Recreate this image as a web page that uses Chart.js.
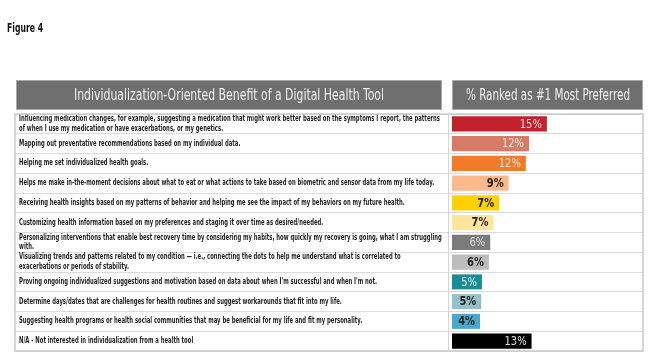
<!DOCTYPE html>
<html>
<head>
<meta charset="utf-8">
<script src="https://cdn.jsdelivr.net/npm/chart.js@4/dist/chart.umd.min.js"></script>
<style>
  html, body { margin: 0; padding: 0; background: #ffffff; }
  #wrap { position: relative; width: 650px; height: 357px; }
</style>
</head>
<body>
<div id="wrap"><canvas id="c" width="650" height="357"></canvas></div>
<script>
// ---- data ----
const figureTitle = "Figure 4";
const leftHeader = "Individualization-Oriented Benefit of a Digital Health Tool";
const rightHeader = "% Ranked as #1 Most Preferred";

const categories = [
  ["Influencing medication changes, for example, suggesting a medication that might work better based on the symptoms I report, the patterns",
   "of when I use my medication or have exacerbations, or my genetics."],
  "Mapping out preventative recommendations based on my individual data.",
  "Helping me set individualized health goals.",
  "Helps me make in-the-moment decisions about what to eat or what actions to take based on biometric and sensor data from my life today.",
  "Receiving health insights based on my patterns of behavior and helping me see the impact of my behaviors on my future health.",
  "Customizing health information based on my preferences and staging it over time as desired/needed.",
  ["Personalizing interventions that enable best recovery time by considering my habits, how quickly my recovery is going, what I am struggling",
   "with."],
  ["Visualizing trends and patterns related to my condition \u2014 i.e., connecting the dots to help me understand what is correlated to",
   "exacerbations or periods of stability."],
  "Proving ongoing individualized suggestions and motivation based on data about when I'm successful and when I'm not.",
  "Determine days/dates that are challenges for health routines and suggest workarounds that fit into my life.",
  "Suggesting health programs or health social communities that may be beneficial for my life and fit my personality.",
  "N/A - Not interested in individualization from a health tool"
];
const values = [14.9, 12.1, 11.6, 8.9, 7.4, 6.5, 6.0, 5.8, 4.7, 4.6, 4.4, 12.5];
const valueLabels = ["15%", "12%", "12%", "9%", "7%", "7%", "6%", "6%", "5%", "5%", "4%", "13%"];
const barColors = ["#c1212b", "#d77b67", "#f27b29", "#fbb98b", "#ffd100", "#fde59c",
                   "#7b7b7b", "#bdbdbd", "#1a8c95", "#95c0c7", "#46a9cd", "#000000"];
const labelColors = ["#f3e0e0", "#f6ece8", "#fbe7d8", "#222222", "#222222", "#222222",
                     "#dddddd", "#222222", "#e4f2f3", "#222222", "#222222", "#e0e0e0"];

// ---- fonts: horizontal squeeze fitted to the reference text widths ----
const FAMILY = "'Liberation Sans Narrow', 'DejaVu Sans Condensed', 'Liberation Sans', sans-serif";
const mctx = document.createElement('canvas').getContext('2d');
function fitScale(text, font, targetWidth) {
  mctx.font = font;
  return Math.min(1, targetWidth / mctx.measureText(text).width);
}
const CAT_SIZE = 8;
const catScale = fitScale(categories[0][0], "bold " + CAT_SIZE + "px " + FAMILY, 421);
const LEFT_HEAD_FONT = "normal 15px " + FAMILY;
const RIGHT_HEAD_FONT = "normal 15px " + FAMILY;
const leftHeadScale = fitScale(leftHeader, LEFT_HEAD_FONT, 310);
const rightHeadScale = fitScale(rightHeader, RIGHT_HEAD_FONT, 164);
const TITLE_FONT = "bold 13px " + FAMILY;
const titleScale = fitScale(figureTitle, TITLE_FONT, 36);

// ---- layout geometry ----
const TABLE = { left: 15, top: 114, right: 643, bottom: 351, divider: 448 };
const BAR_START = 452;
const TEXT_LEFT = 19;

function squeezedText(ctx, text, cx, cy, sx) {
  ctx.save();
  ctx.translate(cx, cy);
  ctx.scale(sx, 1);
  ctx.fillText(text, 0, 0);
  ctx.restore();
}

const tablePlugin = {
  id: 'tablePlugin',
  beforeDraw(chart) {
    const ctx = chart.ctx;
    ctx.save();
    // Figure title
    ctx.fillStyle = "#111111";
    ctx.font = TITLE_FONT;
    ctx.textBaseline = "alphabetic";
    ctx.textAlign = "left";
    squeezedText(ctx, figureTitle, 7, 32, titleScale);
    // headers
    ctx.fillStyle = "#6f6f6f";
    ctx.fillRect(16, 80, 426, 30);
    ctx.fillRect(452, 80, 191, 30);
    ctx.strokeStyle = "#a9a9a9";
    ctx.lineWidth = 1;
    ctx.strokeRect(16.5, 80.5, 425, 29);
    ctx.strokeRect(452.5, 80.5, 190, 29);
    ctx.fillStyle = "#eeeeee";
    ctx.textAlign = "center";
    ctx.textBaseline = "middle";
    ctx.font = LEFT_HEAD_FONT;
    squeezedText(ctx, leftHeader, 229, 96, leftHeadScale);
    ctx.font = RIGHT_HEAD_FONT;
    squeezedText(ctx, rightHeader, 548, 96, rightHeadScale);
    ctx.restore();
  },
  afterDatasetsDraw(chart) {
    // the y tick labels (ticks.z = 1) are drawn right after this hook: squeeze them about TEXT_LEFT
    const ctx = chart.ctx;
    const r = chart.currentDevicePixelRatio || 1;
    ctx.save();
    ctx.setTransform(r * catScale, 0, 0, r, r * TEXT_LEFT * (1 - catScale), 0);
  },
  afterDraw(chart) {
    const ctx = chart.ctx;
    ctx.restore();
    ctx.save();
    // table frame and divider
    ctx.strokeStyle = "#c9c9c9";
    ctx.lineWidth = 1.5;
    ctx.strokeRect(TABLE.left, TABLE.top, TABLE.right - TABLE.left, TABLE.bottom - TABLE.top);
    ctx.lineWidth = 1;
    ctx.strokeStyle = "#d4d4d4";
    ctx.beginPath();
    ctx.moveTo(TABLE.divider + 0.5, TABLE.top);
    ctx.lineTo(TABLE.divider + 0.5, TABLE.bottom);
    ctx.stroke();
    // value labels at bar ends
    const meta = chart.getDatasetMeta(0);
    ctx.textAlign = "right";
    ctx.textBaseline = "middle";
    meta.data.forEach((bar, i) => {
      const dark = labelColors[i] === "#222222";
      ctx.font = (dark ? "bold " : "normal ") + "12px " + FAMILY;
      ctx.fillStyle = labelColors[i];
      squeezedText(ctx, valueLabels[i], bar.x - 5, bar.y + 0.5, 0.92);
    });
    ctx.restore();
  }
};

new Chart(document.getElementById('c'), {
  type: 'bar',
  data: {
    labels: categories,
    datasets: [{
      data: values,
      backgroundColor: barColors,
      borderWidth: 0,
      barPercentage: 0.76,
      categoryPercentage: 1.0
    }]
  },
  options: {
    indexAxis: 'y',
    responsive: false,
    animation: false,
    layout: { padding: { top: TABLE.top, left: TEXT_LEFT, right: 650 - TABLE.right, bottom: 357 - TABLE.bottom } },
    plugins: { legend: { display: false }, tooltip: { enabled: false }, title: { display: false } },
    scales: {
      x: { display: false, min: 0, max: 30 },
      y: {
        afterFit(scale) { scale.width = BAR_START - TEXT_LEFT; },
        border: { display: false },
        grid: {
          color: "#dadada",
          lineWidth: 1,
          offset: true,
          tickLength: BAR_START - TABLE.left,
          drawTicks: true
        },
        ticks: {
          z: 1,
          autoSkip: false,
          mirror: true,            // mirrored labels are not clipped to the axis box
          crossAlign: 'near',      // left-aligned
          padding: -(BAR_START - TEXT_LEFT),  // places them back at TEXT_LEFT
          color: "#1e1e1e",
          font: { family: FAMILY, size: CAT_SIZE, weight: 'bold', lineHeight: '9.8px' }
        }
      }
    }
  },
  plugins: [tablePlugin]
});
</script>
</body>
</html>
